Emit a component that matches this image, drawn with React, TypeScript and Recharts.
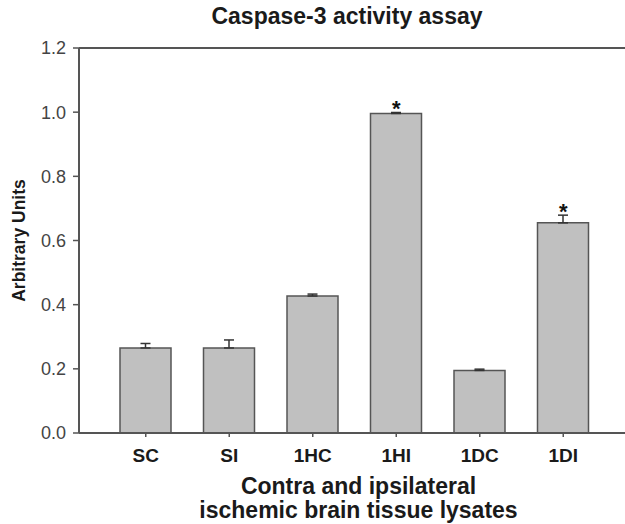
import {
  ComposedChart,
  Bar,
  ErrorBar,
  Scatter,
  XAxis,
  YAxis,
  ReferenceLine,
} from "recharts";

const groups = ["SC", "SI", "1HC", "1HI", "1DC", "1DI"];
const activity = [0.265, 0.265, 0.427, 0.996, 0.195, 0.655];
const sem = [0.014, 0.025, 0.006, 0.003, 0.004, 0.024];
const significant = [false, false, false, true, false, true];
const yTicks = [0, 0.2, 0.4, 0.6, 0.8, 1.0, 1.2];

const FONT = "'Liberation Sans', Arial, Helvetica, sans-serif";
const AXIS = "#555";

const rows = groups.map((g, i) => ({
  group: g,
  value: activity[i],
  err: [0, sem[i]],
  star: significant[i] ? activity[i] + sem[i] : null,
}));

function Star(props: any) {
  const { cx, cy } = props;
  if (cx == null || cy == null || props.payload?.star == null) return <g />;
  return (
    <text x={cx} y={cy + 4} textAnchor="middle" fontFamily={FONT} fontWeight="bold" fontSize={22} fill="#111">
      *
    </text>
  );
}

function XTitle(props: any) {
  const vb = props.viewBox;
  const cx = vb.x + vb.width / 2 + 4;
  return (
    <text textAnchor="middle" fontFamily={FONT} fontWeight="bold" fontSize={23} fill="#1a1a1a">
      <tspan x={cx} y={494}>Contra and ipsilateral</tspan>
      <tspan x={cx} y={518}>ischemic brain tissue lysates</tspan>
    </text>
  );
}

export default function App() {
  return (
    <div style={{ position: "absolute", left: 0, top: 0, width: 625, height: 524, overflow: "hidden", background: "#fff" }}>
      <div
        style={{
          position: "absolute",
          top: 3,
          left: 0,
          width: 694,
          textAlign: "center",
          fontFamily: FONT,
          fontWeight: "bold",
          fontSize: 23,
          color: "#1a1a1a",
        }}
      >
        Caspase-3 activity assay
      </div>
      <ComposedChart width={640} height={524} data={rows} margin={{ top: 48, right: 10, left: 0, bottom: 0 }}>
        <ReferenceLine y={1.2} stroke={AXIS} strokeWidth={2} />
        <XAxis
          dataKey="group"
          height={91}
          padding={{ left: 25, right: 25 }}
          axisLine={{ stroke: AXIS, strokeWidth: 2 }}
          tickLine={{ stroke: AXIS, strokeWidth: 1.5 }}
          tickSize={4}
          tickMargin={12}
          tick={{ fontFamily: FONT, fontWeight: "bold", fontSize: 19, fill: "#1a1a1a" }}
          label={<XTitle />}
        />
        <YAxis
          domain={[0, 1.2]}
          ticks={yTicks}
          width={79}
          axisLine={{ stroke: AXIS, strokeWidth: 2 }}
          tickLine={{ stroke: AXIS, strokeWidth: 1.5 }}
          tickSize={6}
          tickMargin={7}
          tickFormatter={(v: number) => v.toFixed(1)}
          tick={{ fontFamily: FONT, fontSize: 18, fill: "#444" }}
          label={{
            value: "Arbitrary Units",
            angle: -90,
            position: "insideLeft",
            offset: 19,
            style: { fontFamily: FONT, fontWeight: "bold", fontSize: 17.5, fill: "#1a1a1a", textAnchor: "middle" },
          }}
        />
        <Bar dataKey="value" barSize={51} fill="#c0c0c0" stroke={AXIS} strokeWidth={1.5} isAnimationActive={false}>
          <ErrorBar dataKey="err" width={5} stroke="#333" strokeWidth={1.5} direction="y" />
        </Bar>
        <Scatter dataKey="star" shape={<Star />} isAnimationActive={false} />
      </ComposedChart>
    </div>
  );
}
